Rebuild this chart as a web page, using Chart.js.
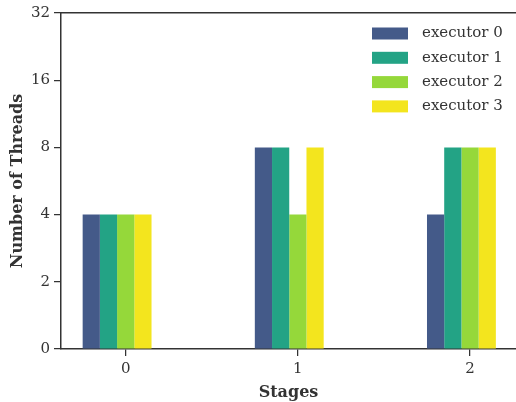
<!DOCTYPE html>
<html>
<head>
<meta charset="utf-8">
<script src="https://cdn.jsdelivr.net/npm/chart.js@4.4.0/dist/chart.umd.min.js"></script>
<style>
  html, body { margin: 0; padding: 0; background: #fff; }
  #wrap { width: 516px; height: 402px; position: relative; }
</style>
</head>
<body>
<div id="wrap"><canvas id="c" width="516" height="402"></canvas></div>
<script>
const stages = ['0', '1', '2'];
const seriesNames = ['executor 0', 'executor 1', 'executor 2', 'executor 3'];
const executor0 = [4, 8, 4];
const executor1 = [4, 8, 8];
const executor2 = [4, 4, 8];
const executor3 = [4, 8, 8];
const yTickLabels = ['0', '2', '4', '8', '16', '32'];
const colors = ['#445a89', '#23a385', '#95d83a', '#f3e51e'];

// symlog-like transform: 0..2 linear, then log2
function toAxis(v) { return v <= 2 ? v / 2 : Math.log2(v); }

const FONT = '"DejaVu Serif", serif';
const TEXT = '#333333';
const AXIS = '#333333';

const allSeries = [executor0, executor1, executor2, executor3];
const datasets = allSeries.map((vals, i) => ({
  label: seriesNames[i],
  data: vals.map(toAxis),
  backgroundColor: colors[i],
  borderWidth: 0,
  categoryPercentage: 0.5,
  barPercentage: 1.0
}));
// empty slot so that group is offset like the original
datasets.push({ label: '', data: stages.map(() => null), backgroundColor: 'rgba(0,0,0,0)', categoryPercentage: 0.5, barPercentage: 1.0 });

const legendPlugin = {
  id: 'customLegend',
  afterDraw(chart) {
    const ctx = chart.ctx;
    ctx.save();
    ctx.font = '15px ' + FONT;
    ctx.textBaseline = 'middle';
    ctx.textAlign = 'left';
    seriesNames.forEach((name, i) => {
      const y = 27.5 + i * 24.3;
      ctx.fillStyle = colors[i];
      ctx.fillRect(372, y, 36, 12);
      ctx.fillStyle = TEXT;
      ctx.fillText(name, 422, y + 6);
    });
    ctx.restore();
  }
};

new Chart(document.getElementById('c'), {
  type: 'bar',
  data: { labels: stages, datasets },
  plugins: [legendPlugin],
  options: {
    responsive: false,
    animation: false,
    devicePixelRatio: 1,
    layout: { padding: { top: 11, right: 0, left: 0, bottom: 0 } },
    plugins: { legend: { display: false }, tooltip: { enabled: false } },
    scales: {
      x: {
        type: 'linear',
        min: -0.3758,
        max: 2.267,
        offset: false,
        afterFit: s => { s.height = 53; },
        afterBuildTicks: s => { s.ticks = stages.map(v => ({ value: +v })); },
        ticks: {
          callback: (v) => String(v),
          font: { family: FONT, size: 15 },
          color: TEXT,
          padding: 4,
          maxRotation: 0
        },
        grid: { display: true, offset: false, drawOnChartArea: false, drawTicks: true, tickLength: 7, color: AXIS, lineWidth: 1.25 },
        border: { display: true, color: AXIS, width: 1.5 },
        title: { display: true, text: 'Stages', font: { family: FONT, size: 16, weight: 'bold' }, color: TEXT, padding: { top: 0, bottom: 0 } }
      },
      xTop: {
        type: 'linear',
        position: 'top',
        min: -0.3758,
        max: 2.267,
        afterFit: s => { s.height = 0; },
        ticks: { display: false },
        grid: { display: false, drawTicks: false },
        border: { display: true, color: AXIS, width: 1.5 }
      },
      y: {
        type: 'linear',
        min: 0,
        max: yTickLabels.length - 1,
        afterFit: s => { s.width = 61; },
        afterBuildTicks: s => { s.ticks = yTickLabels.map((_, i) => ({ value: i })); },
        ticks: {
          callback: (v) => yTickLabels[v],
          font: { family: FONT, size: 15 },
          color: TEXT,
          padding: 4
        },
        grid: { display: true, offset: false, drawOnChartArea: false, drawTicks: true, tickLength: 7, color: AXIS, lineWidth: 1.25 },
        border: { display: true, color: AXIS, width: 1.5 },
        title: { display: true, text: 'Number of Threads', font: { family: FONT, size: 16, weight: 'bold' }, color: TEXT, padding: { top: 8, bottom: 2 } }
      }
    }
  }
});
</script>
</body>
</html>
